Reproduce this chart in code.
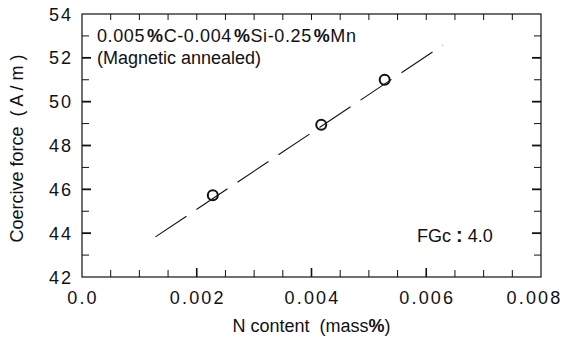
<!DOCTYPE html>
<html>
<head>
<meta charset="utf-8">
<script src="https://cdn.jsdelivr.net/npm/d3@7"></script>
<style>
  body { margin: 0; background: #fff; }
  svg { display: block; font-family: "Liberation Sans", Arial, sans-serif; }
  text { white-space: pre; }
</style>
</head>
<body>
<div id="chart"></div>
<script>
// measured points
const nContent = [0.00228, 0.00417, 0.005275];
const coerciveForce = [45.73, 48.95, 51.0];

// fitted line ends
const fitX = [0.00128, 0.00629];
const fitY = [43.83, 52.58];

const xTicks = [0, 0.002, 0.004, 0.006, 0.008];
const xTickLabels = ["0.0", "0.002", "0.004", "0.006", "0.008"];
const yTicks = [42, 44, 46, 48, 50, 52, 54];

const width = 566;
const height = 339;
const margin = { top: 14, right: 25, bottom: 62, left: 82 };

const svg = d3
  .select("#chart")
  .append("svg")
  .attr("width", width)
  .attr("height", height);

const x = d3
  .scaleLinear()
  .domain([0, 0.008])
  .range([margin.left, width - margin.right]);

const y = d3
  .scaleLinear()
  .domain([42, 54])
  .range([height - margin.bottom, margin.top]);

const x0 = x.range()[0], x1 = x.range()[1];
const y0 = y.range()[0], y1 = y.range()[1];

// frame
svg
  .append("rect")
  .attr("x", x0)
  .attr("y", y1)
  .attr("width", x1 - x0)
  .attr("height", y0 - y1)
  .attr("fill", "none")
  .attr("stroke", "#111")
  .attr("stroke-width", 1.2);

const ticks = svg.append("g").attr("stroke", "#111");

// x ticks, every 0.0005, inside, bottom and top
const xMinor = d3.range(0, 17).map((i) => i * 0.0005);
xMinor.forEach((v) => {
  const major = Math.abs(v / 0.002 - Math.round(v / 0.002)) < 1e-6;
  if (v === 0 || v === 0.008) return;
  ticks
    .append("line")
    .attr("x1", x(v)).attr("x2", x(v))
    .attr("y1", y0).attr("y2", y0 - (major ? 9 : 7))
    .attr("stroke-width", major ? 1.6 : 1);
  ticks
    .append("line")
    .attr("x1", x(v)).attr("x2", x(v))
    .attr("y1", y1).attr("y2", y1 + 6)
    .attr("stroke-width", 1);
});

// y ticks, every 1, inside, left and right
d3.range(43, 54).forEach((v) => {
  const major = v % 2 === 0;
  ticks
    .append("line")
    .attr("x1", x0).attr("x2", x0 + (major ? 9 : 7))
    .attr("y1", y(v)).attr("y2", y(v))
    .attr("stroke-width", major ? 1.8 : 1);
  ticks
    .append("line")
    .attr("x1", x1).attr("x2", x1 - (major ? 9 : 7))
    .attr("y1", y(v)).attr("y2", y(v))
    .attr("stroke-width", major ? 1.8 : 1);
});

// tick labels (last one pulled in so it stays inside the picture)
svg
  .append("g")
  .selectAll("text")
  .data(xTicks)
  .join("text")
  .attr("x", (d, i) => (i === xTicks.length - 1 ? x(d) - 6.5 : x(d) + 1))
  .attr("y", y0 + 27)
  .attr("text-anchor", "middle")
  .attr("font-size", 18)
  .attr("letter-spacing", 2.2)
  .attr("fill", "#111")
  .text((d, i) => xTickLabels[i]);

svg
  .append("g")
  .selectAll("text")
  .data(yTicks)
  .join("text")
  .attr("x", x0 - 9)
  .attr("y", (d) => y(d) + 6.5)
  .attr("text-anchor", "end")
  .attr("font-size", 18)
  .attr("letter-spacing", 2)
  .attr("fill", "#111")
  .text((d) => d);

// axis titles
const xTitle = svg
  .append("text")
  .attr("x", (x0 + x1) / 2)
  .attr("y", 332)
  .attr("text-anchor", "middle")
  .attr("font-size", 18)
  .attr("fill", "#111");
xTitle.append("tspan").text("N content  (mass");
xTitle.append("tspan").attr("font-weight", "bold").text("%");
xTitle.append("tspan").text(")");

svg
  .append("text")
  .attr("transform", `translate(23,${(y0 + y1) / 2 + 3}) rotate(-90)`)
  .attr("text-anchor", "middle")
  .attr("font-size", 18)
  .attr("fill", "#111")
  .text("Coercive force  ( A / m )");

// fitted dashed line
svg
  .append("line")
  .attr("x1", x(fitX[0]))
  .attr("y1", y(fitY[0]))
  .attr("x2", x(fitX[1]))
  .attr("y2", y(fitY[1]))
  .attr("stroke", "#111")
  .attr("stroke-width", 1.1)
  .attr("stroke-dasharray", "37.3,12");

// data points
svg
  .append("g")
  .selectAll("circle")
  .data(nContent)
  .join("circle")
  .attr("cx", (d) => x(d))
  .attr("cy", (d, i) => y(coerciveForce[i]))
  .attr("r", 5)
  .attr("fill", "none")
  .attr("stroke", "#111")
  .attr("stroke-width", 2);

// annotations
const comp = svg
  .append("text")
  .attr("x", 97)
  .attr("y", 42)
  .attr("font-size", 18)
  .attr("letter-spacing", 0.6)
  .attr("fill", "#111");
[
  ["0.005", false], ["%", true], ["C-0.004", false], ["%", true],
  ["Si-0.25", false], ["%", true], ["Mn", false],
].forEach(([t, b]) => {
  comp
    .append("tspan")
    .attr("font-weight", b ? "bold" : null)
    .attr("dx", b ? 2 : 0)
    .text(t);
});

svg
  .append("text")
  .attr("x", 97)
  .attr("y", 64)
  .attr("font-size", 18)
  .attr("fill", "#111")
  .text("(Magnetic annealed)");

const fg = svg
  .append("text")
  .attr("x", 417)
  .attr("y", 242)
  .attr("font-size", 18)
  .attr("fill", "#111");
fg.append("tspan").text("FGc ");
fg.append("tspan").attr("font-weight", "bold").attr("font-size", 20).text(":");
fg.append("tspan").text(" 4.0");
</script>
</body>
</html>
